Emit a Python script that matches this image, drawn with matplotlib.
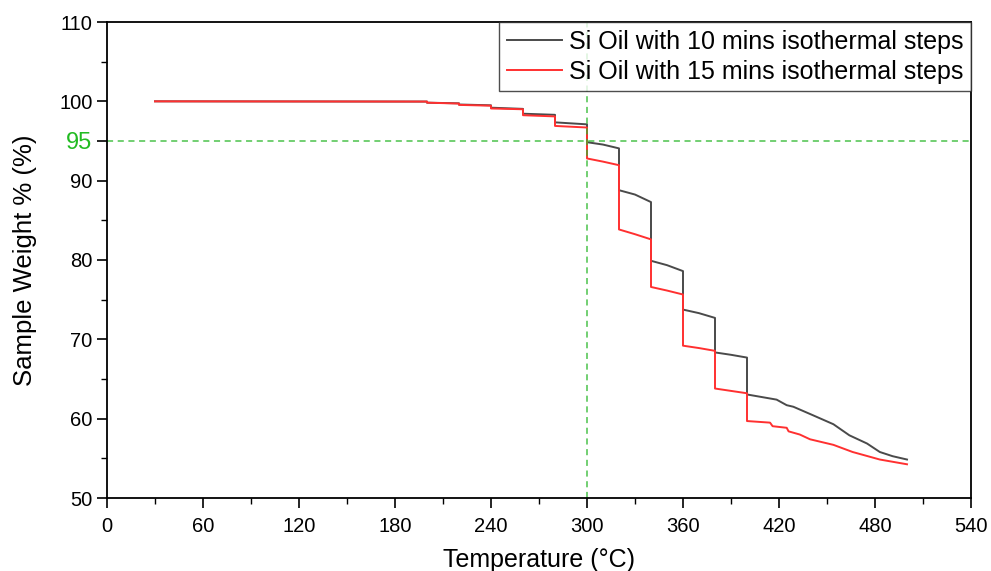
import matplotlib
matplotlib.use('Agg')
import matplotlib.pyplot as plt
from matplotlib.ticker import MultipleLocator

plt.rcParams['font.family'] = ['Liberation Sans', 'DejaVu Sans']

# 10 min isothermal steps (temperature in C, weight in %)
temp_10 = [30, 200, 200, 220, 220, 240, 240, 260, 260, 280, 280, 300, 300, 310, 320, 320, 330, 340,
           340, 350, 360, 360, 370, 380, 380, 390, 400, 400, 418.5, 424.8, 429, 441, 454, 464, 475,
           483, 491, 500]
weight_10 = [100.0, 99.97, 99.83, 99.75, 99.6, 99.5, 99.2, 99.05, 98.44, 98.3, 97.35, 97.1, 94.85,
             94.55, 94.07, 88.8, 88.25, 87.3, 79.9, 79.35, 78.6, 73.75, 73.3, 72.7, 68.35, 68.05,
             67.7, 63.05, 62.4, 61.7, 61.5, 60.45, 59.3, 57.9, 56.87, 55.8, 55.27, 54.85]

# 15 min isothermal steps
temp_15 = [30, 200, 200, 220, 220, 240, 240, 260, 260, 280, 280, 300, 300, 310, 320, 320, 330, 340,
           340, 350, 360, 360, 370, 380, 380, 390, 400, 400, 414.4, 416, 424.8, 426, 433, 439.4,
           454, 466, 483, 500]
weight_15 = [100.0, 99.97, 99.83, 99.72, 99.55, 99.45, 99.1, 99.0, 98.25, 98.1, 96.9, 96.7, 92.8,
             92.4, 91.95, 83.85, 83.25, 82.6, 76.6, 76.15, 75.65, 69.2, 68.9, 68.55, 63.8, 63.5,
             63.2, 59.7, 59.5, 59.05, 58.85, 58.4, 58.0, 57.4, 56.7, 55.8, 54.85, 54.25]

labels = ['Si Oil with 10 mins isothermal steps', 'Si Oil with 15 mins isothermal steps']
mark_temp = 300
mark_weight = 95

fig = plt.figure(figsize=(9.91, 5.71), dpi=100)
ax = fig.add_axes([107 / 991, 73 / 571, 864 / 991, 476 / 571])

ax.plot(temp_10, weight_10, color='#4a4a4a', lw=1.4, label=labels[0])
ax.plot(temp_15, weight_15, color='#ff3030', lw=1.4, label=labels[1])

green = '#2db82d'
ax.axvline(mark_temp, color=green, ls=(0, (4, 3)), lw=1.1, alpha=0.85)
ax.axhline(mark_weight, color=green, ls=(0, (4, 3)), lw=1.1, alpha=0.85)

ax.set_xlim(0, 540)
ax.set_ylim(50, 110)
ax.xaxis.set_major_locator(MultipleLocator(60))
ax.xaxis.set_minor_locator(MultipleLocator(30))
ax.set_yticks([50, 60, 70, 80, 90, 95, 100, 110])
ax.yaxis.set_minor_locator(MultipleLocator(5))
ax.tick_params(which='major', direction='out', length=7, width=1.2, labelsize=14.5)
ax.tick_params(axis='x', which='major', pad=7)
ax.tick_params(which='minor', direction='out', length=4, width=1.0)
for lab in ax.get_yticklabels():
    if lab.get_text() == '95':
        lab.set_color('#22bb22')
        lab.set_fontsize(17)
for sp in ax.spines.values():
    sp.set_linewidth(1.3)

ax.set_xlabel('Temperature (°C)', fontsize=18)
ax.set_ylabel('Sample Weight % (%)', fontsize=18.5)
ax.xaxis.set_label_coords(0.5, -0.105)
ax.yaxis.set_label_coords(-0.081, 0.5)

leg = ax.legend(loc='upper right', fontsize=18, frameon=True, fancybox=False, borderaxespad=0,
                handlelength=2.2, handletextpad=0.3, borderpad=0.3, labelspacing=0.25)
leg.get_frame().set_edgecolor('#222222')
leg.get_frame().set_linewidth(1.0)

fig.savefig('out.png', dpi=100)
